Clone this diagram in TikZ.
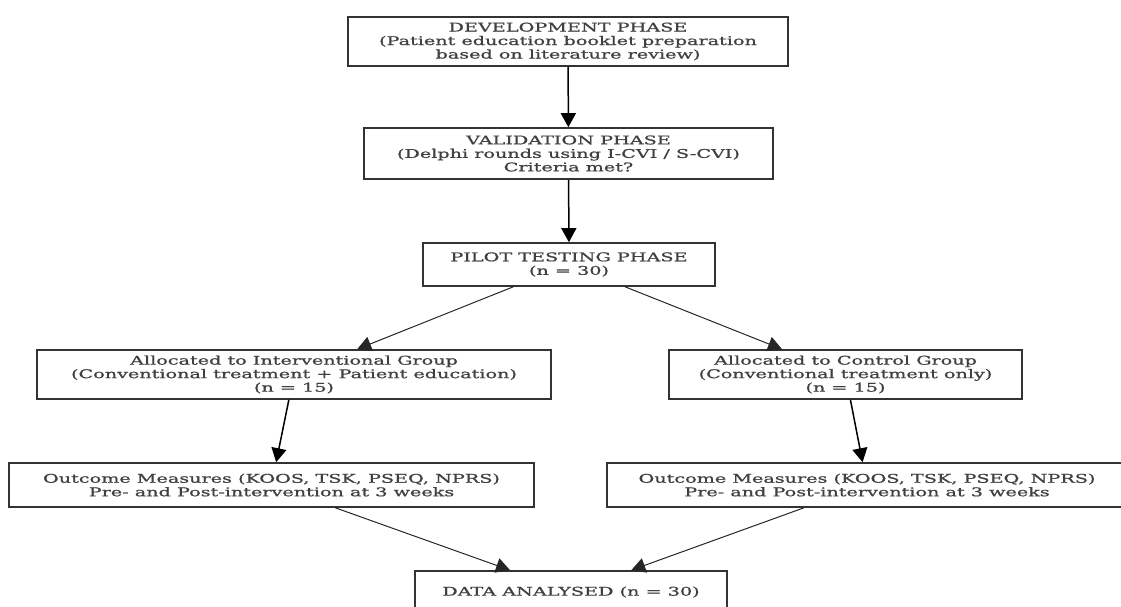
\documentclass[tikz,border=0pt]{standalone}
\usepackage{fontspec}
\setmainfont[FakeStretch=1.6,FakeBold=1]{DejaVu Serif}
\usetikzlibrary{arrows.meta}
\tikzset{
  box/.style={draw=black!80, line width=1.6pt, fill=white, align=center, inner sep=0pt,
    font=\fontsize{12}{13.5}\selectfont, text=black!75},
  tip/.style={-{Triangle[length=14pt,width=15pt]}},
  arr/.style={draw=black, line width=1.5pt, tip},
  arrt/.style={draw=black!85, line width=1pt, tip}
}
\begin{document}
\begin{tikzpicture}[x=1pt,y=-1pt]
\useasboundingbox (0,0) rectangle (1121,607);
\clip (0,0) rectangle (1121,607);
\node[box, minimum width=440pt, minimum height=49pt] (dev) at (568,41.5)
  {DEVELOPMENT PHASE\\(Patient education booklet preparation\\based on literature review)};
\node[box, minimum width=409pt, minimum height=51pt] (val) at (568.5,153.5)
  {VALIDATION PHASE\\(Delphi rounds using I-CVI / S-CVI)\\Criteria met?};
\node[box, minimum width=292pt, minimum height=43pt] (pil) at (569,264.5)
  {PILOT TESTING PHASE\\(n = 30)};
\node[box, minimum width=514pt, minimum height=49pt] (int) at (294,374.5)
  {Allocated to Interventional Group\\(Conventional treatment + Patient education)\\(n = 15)};
\node[box, minimum width=353pt, minimum height=49pt] (con) at (845.5,374.5)
  {Allocated to Control Group\\(Conventional treatment only)\\(n = 15)};
\node[box, minimum width=525pt, minimum height=44pt] (outl) at (271.5,485)
  {Outcome Measures (KOOS, TSK, PSEQ, NPRS)\\Pre- and Post-intervention at 3 weeks};
\node[box, minimum width=520pt, minimum height=44pt] (outr) at (867,485)
  {Outcome Measures (KOOS, TSK, PSEQ, NPRS)\\Pre- and Post-intervention at 3 weeks};
\node[box, minimum width=312pt, minimum height=42pt] (dat) at (571,592)
  {DATA ANALYSED (n = 30)};
\draw[arr] (dev) -- (val);
\draw[arr] (val) -- (pil);
\draw[arrt] (pil) -- (int);
\draw[arrt] (pil) -- (con);
\draw[arr] (int) -- (outl);
\draw[arr] (con) -- (outr);
\draw[arrt] (outl) -- (dat);
\draw[arrt] (outr) -- (dat);
\end{tikzpicture}
\end{document}
